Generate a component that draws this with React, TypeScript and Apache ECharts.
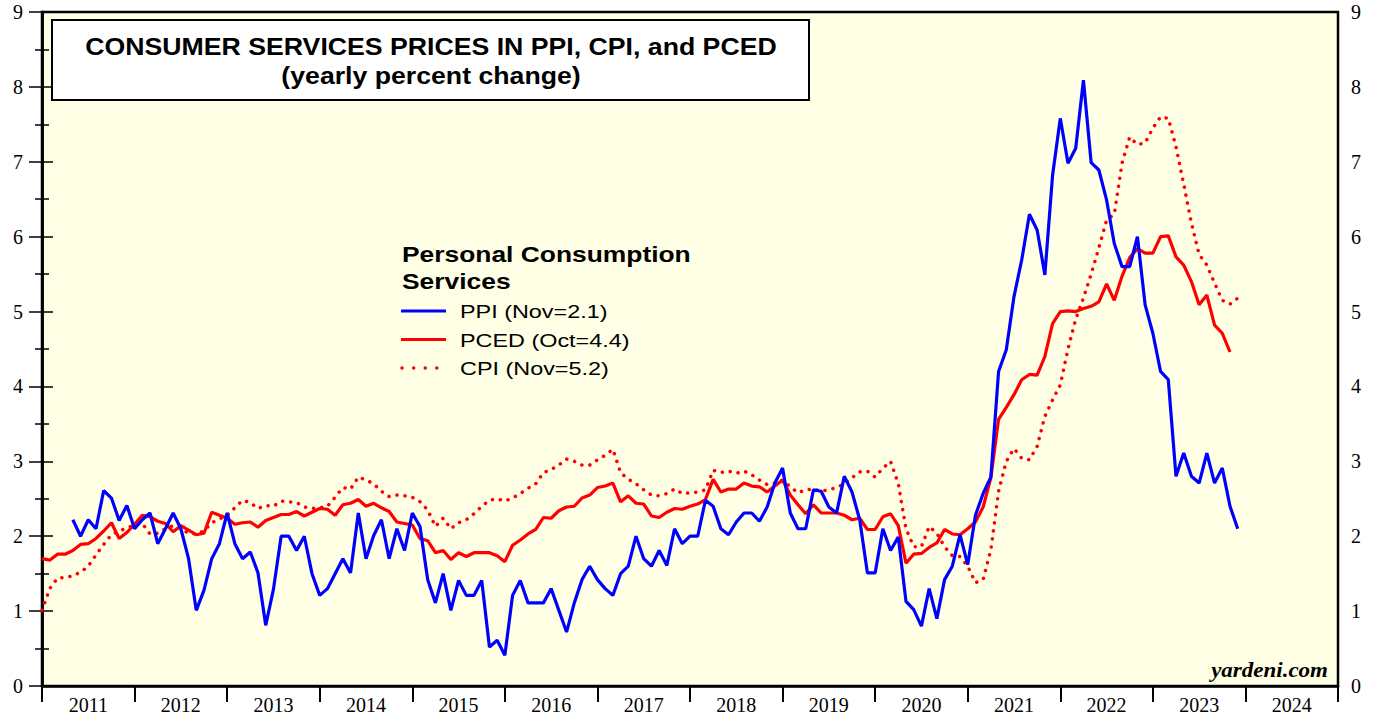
import React, { useEffect, useRef } from "react";
import * as echarts from "echarts";

// Month index: 0 = Dec 2010 (plotted at month end), 12 = Dec 2011, ..., 168 = Dec 2024
const yearLabels = ["2011", "2012", "2013", "2014", "2015", "2016", "2017", "2018", "2019", "2020", "2021", "2022", "2023", "2024"];

const ppiStart = 4;
const ppiValues = [
  2.22, 2.0, 2.22, 2.1, 2.61, 2.51, 2.21, 2.41, 2.1, 2.22, 2.31, 1.9, 2.1, 2.31, 2.1, 1.7,
  1.01, 1.28, 1.7, 1.9, 2.31, 1.9, 1.7, 1.79, 1.51, 0.81, 1.29, 2.0, 2.0, 1.81, 2.0, 1.5,
  1.21, 1.3, 1.5, 1.7, 1.51, 2.31, 1.7, 2.01, 2.22, 1.7, 2.1, 1.81, 2.31, 2.13, 1.42, 1.11,
  1.5, 1.01, 1.41, 1.21, 1.21, 1.41, 0.52, 0.61, 0.41, 1.21, 1.41, 1.11, 1.11, 1.11, 1.3, 1.01,
  0.72, 1.11, 1.42, 1.6, 1.42, 1.3, 1.21, 1.5, 1.6, 2.0, 1.7, 1.6, 1.81, 1.61, 2.1, 1.9,
  2.0, 2.0, 2.48, 2.4, 2.1, 2.02, 2.19, 2.31, 2.31, 2.2, 2.39, 2.71, 2.91, 2.31, 2.1, 2.1,
  2.62, 2.6, 2.39, 2.31, 2.8, 2.59, 2.22, 1.51, 1.51, 2.1, 1.81, 1.99, 1.13, 1.02, 0.8, 1.3,
  0.9, 1.42, 1.6, 2.02, 1.62, 2.28, 2.57, 2.79, 4.2, 4.49, 5.2, 5.69, 6.3, 6.09, 5.49, 6.82,
  7.58, 6.98, 7.18, 8.09, 6.99, 6.89, 6.49, 5.91, 5.6, 5.6, 6.0, 5.09, 4.71, 4.2, 4.09, 2.8,
  3.11, 2.8, 2.71, 3.11, 2.71, 2.91, 2.4, 2.1,
];

const pcedStart = 0;
const pcedValues = [
  1.7, 1.68, 1.76, 1.76, 1.81, 1.89, 1.9, 1.97, 2.07, 2.18, 1.97, 2.05, 2.16, 2.28, 2.26, 2.2,
  2.17, 2.06, 2.14, 2.08, 2.02, 2.04, 2.32, 2.28, 2.24, 2.16, 2.18, 2.19, 2.12, 2.21, 2.25, 2.29,
  2.29, 2.33, 2.27, 2.32, 2.37, 2.36, 2.28, 2.42, 2.44, 2.49, 2.4, 2.44, 2.38, 2.33, 2.19, 2.17,
  2.15, 1.97, 1.94, 1.78, 1.81, 1.69, 1.78, 1.73, 1.78, 1.78, 1.78, 1.74, 1.66, 1.88, 1.95, 2.03,
  2.09, 2.25, 2.24, 2.34, 2.39, 2.4, 2.51, 2.55, 2.65, 2.67, 2.71, 2.46, 2.54, 2.44, 2.43, 2.27,
  2.25, 2.32, 2.37, 2.36, 2.4, 2.43, 2.49, 2.76, 2.59, 2.63, 2.63, 2.71, 2.67, 2.66, 2.59, 2.67,
  2.75, 2.55, 2.42, 2.3, 2.42, 2.31, 2.31, 2.31, 2.28, 2.22, 2.24, 2.09, 2.09, 2.26, 2.3, 2.14,
  1.64, 1.76, 1.77, 1.85, 1.91, 2.09, 2.03, 2.02, 2.1, 2.19, 2.39, 2.78, 3.56, 3.72, 3.89, 4.09,
  4.16, 4.15, 4.4, 4.84, 5.0, 5.01, 5.0, 5.04, 5.07, 5.13, 5.37, 5.15, 5.47, 5.72, 5.84, 5.78,
  5.78, 6.0, 6.01, 5.73, 5.62, 5.4, 5.09, 5.22, 4.82, 4.71, 4.46,
];

const cpiStart = 0;
const cpiValues = [
  1.01, 1.3, 1.44, 1.45, 1.47, 1.52, 1.6, 1.75, 1.89, 2.02, 2.07, 2.11, 2.15, 2.17, 2.03, 2.04,
  2.1, 2.14, 2.1, 2.04, 2.03, 2.07, 2.18, 2.23, 2.28, 2.38, 2.48, 2.45, 2.37, 2.41, 2.4, 2.47,
  2.46, 2.45, 2.39, 2.37, 2.38, 2.4, 2.52, 2.65, 2.63, 2.79, 2.75, 2.7, 2.6, 2.53, 2.55, 2.54,
  2.52, 2.46, 2.35, 2.13, 2.24, 2.1, 2.18, 2.22, 2.3, 2.4, 2.48, 2.5, 2.47, 2.51, 2.57, 2.64,
  2.7, 2.85, 2.89, 2.95, 3.03, 3.0, 2.95, 2.95, 3.02, 3.08, 3.16, 2.85, 2.76, 2.7, 2.62, 2.55,
  2.54, 2.57, 2.63, 2.57, 2.58, 2.59, 2.62, 2.88, 2.85, 2.87, 2.84, 2.87, 2.82, 2.75, 2.69, 2.71,
  2.75, 2.66, 2.58, 2.62, 2.63, 2.6, 2.62, 2.65, 2.7, 2.78, 2.86, 2.87, 2.79, 2.91, 3.0, 2.7,
  2.1, 1.86, 1.86, 2.13, 2.04, 1.86, 1.74, 1.73, 1.6, 1.38, 1.42, 1.82, 2.6, 3.0, 3.17, 3.04,
  3.02, 3.2, 3.6, 3.82, 4.02, 4.5, 4.9, 5.18, 5.5, 5.85, 6.22, 6.3, 6.98, 7.33, 7.23, 7.25,
  7.45, 7.6, 7.58, 7.2, 6.7, 6.18, 5.76, 5.62, 5.38, 5.15, 5.1, 5.18,
];

const titleLines = ["CONSUMER SERVICES PRICES IN PPI, CPI, and PCED", "(yearly percent change)"];
const legendTitle = ["Personal Consumption", "Services"];
const legendItems = ["PPI (Nov=2.1)", "PCED (Oct=4.4)", "CPI (Nov=5.2)"];
const sourceText = "yardeni.com";

const toPoints = (start: number, values: number[]) => values.map((v, k) => [start + k, v]);

const SERIF = '"Liberation Serif", "Times New Roman", serif';
const SANS = '"Liberation Sans", Arial, sans-serif';
const BLUE = "#0000ff";
const RED = "#ff0000";

export default function App() {
  const ref = useRef<HTMLDivElement>(null);

  useEffect(() => {
    if (!ref.current) return;
    const chart = echarts.init(ref.current, undefined, { renderer: "svg" });

    const yAxisBase = (position: "left" | "right", margin: number, tickLen: number) => ({
      type: "value",
      position,
      min: 0,
      max: 9,
      interval: 1,
      axisLine: { show: true, lineStyle: { color: "#000", width: 2.5 } },
      axisTick: { show: true, length: tickLen, lineStyle: { color: "#000", width: 1.5 } },
      minorTick: { show: true, splitNumber: 2, length: 7, lineStyle: { color: "#000", width: 1.5 } },
      axisLabel: { fontFamily: SERIF, fontSize: 20, color: "#000", margin },
      splitLine: { show: false },
    });

    const option: any = {
      animation: false,
      backgroundColor: "#ffffff",
      grid: {
        left: 42,
        right: 46,
        top: 12,
        bottom: 33,
        show: true,
        backgroundColor: "#ffffe5",
        borderColor: "#000",
        borderWidth: 2.5,
      },
      xAxis: [
        {
          type: "value",
          position: "bottom",
          min: 0,
          max: 168,
          interval: 12,
          axisLine: { show: true, lineStyle: { color: "#000", width: 2.5 } },
          axisTick: { show: true, length: 16, lineStyle: { color: "#000", width: 2 } },
          axisLabel: { show: false },
          splitLine: { show: false },
        },
        {
          type: "value",
          position: "bottom",
          min: 0,
          max: 168,
          interval: 6,
          axisLine: { show: false },
          axisTick: { show: false },
          splitLine: { show: false },
          axisLabel: {
            show: true,
            fontFamily: SERIF,
            fontSize: 20,
            color: "#000",
            margin: 9,
            formatter: (v: number) => (v % 12 === 6 ? yearLabels[(v - 6) / 12] : ""),
          },
        },
      ],
      yAxis: [yAxisBase("left", 19, 13), yAxisBase("right", 13, 11)],
      series: [
        {
          name: "CPI",
          type: "line",
          xAxisIndex: 0,
          yAxisIndex: 0,
          showSymbol: false,
          data: toPoints(cpiStart, cpiValues),
          lineStyle: { color: RED, width: 3.5, type: [0.1, 8], cap: "round" },
          z: 3,
        },
        {
          name: "PCED",
          type: "line",
          xAxisIndex: 0,
          yAxisIndex: 0,
          showSymbol: false,
          data: toPoints(pcedStart, pcedValues),
          lineStyle: { color: RED, width: 3.2 },
          z: 4,
        },
        {
          name: "PPI",
          type: "line",
          xAxisIndex: 0,
          yAxisIndex: 0,
          showSymbol: false,
          data: toPoints(ppiStart, ppiValues),
          lineStyle: { color: BLUE, width: 3.2 },
          z: 5,
        },
      ],
      graphic: [
        {
          type: "rect",
          shape: { x: 52, y: 20, width: 757, height: 80 },
          style: { fill: "#ffffff", stroke: "#000", lineWidth: 2 },
          z: 10,
        },
        ...titleLines.map((t, k) => ({
          type: "text",
          x: 431,
          y: 47 + k * 28.5,
          scaleX: 1.16,
          style: {
            text: t,
            font: `bold 23px ${SANS}`,
            fill: "#000",
            align: "center",
            verticalAlign: "middle",
            textAlign: "center",
            textVerticalAlign: "middle",
          },
          z: 11,
        })),
        ...legendTitle.map((t, k) => ({
          type: "text",
          x: 402,
          y: 254 + k * 27,
          scaleX: 1.2,
          style: { text: t, font: `bold 22px ${SANS}`, fill: "#000", verticalAlign: "middle", textVerticalAlign: "middle" },
          z: 11,
        })),
        {
          type: "line",
          shape: { x1: 401, y1: 311, x2: 446, y2: 311 },
          style: { stroke: BLUE, lineWidth: 3.2 },
          z: 11,
        },
        {
          type: "line",
          shape: { x1: 401, y1: 339.5, x2: 446, y2: 339.5 },
          style: { stroke: RED, lineWidth: 3.2 },
          z: 11,
        },
        {
          type: "line",
          shape: { x1: 402, y1: 368, x2: 438, y2: 368 },
          style: { stroke: RED, lineWidth: 3.5, lineDash: [0.1, 11.5], lineCap: "round" },
          z: 11,
        },
        ...legendItems.map((t, k) => ({
          type: "text",
          x: 460,
          y: 312 + k * 28.5,
          scaleX: 1.3,
          style: { text: t, font: `18px ${SANS}`, fill: "#000", verticalAlign: "middle", textVerticalAlign: "middle" },
          z: 11,
        })),
        {
          type: "text",
          x: 1328,
          y: 671,
          scaleX: 1.15,
          style: {
            text: sourceText,
            font: `italic bold 20px ${SERIF}`,
            fill: "#000",
            align: "right",
            verticalAlign: "middle",
            textAlign: "right",
            textVerticalAlign: "middle",
          },
          z: 11,
        },
      ],
    };

    chart.setOption(option);
    return () => chart.dispose();
  }, []);

  return (
    <div
      ref={ref}
      style={{ position: "fixed", left: 0, top: 0, width: 1384, height: 719, background: "#fff" }}
    />
  );
}
